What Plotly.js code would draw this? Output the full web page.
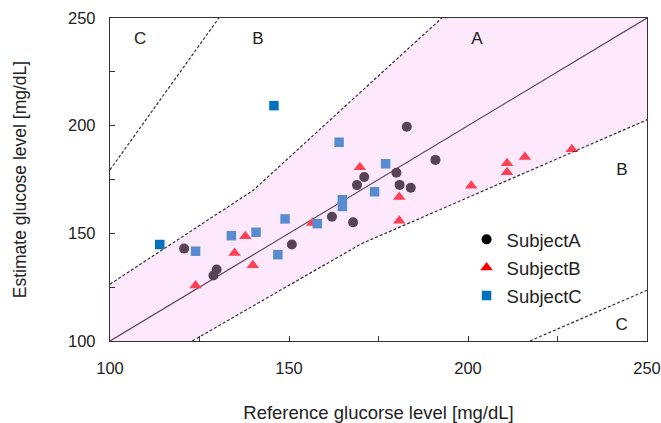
<!DOCTYPE html>
<html>
<head>
<meta charset="utf-8">
<script src="https://cdn.plot.ly/plotly-3.0.1.min.js"></script>
<style>html,body{margin:0;padding:0;background:#fff;}#chart{width:661px;height:423px;}</style>
</head>
<body>
<div id="chart"></div>
<script>
// Subject data: reference vs estimate glucose [mg/dL]
const subjectA_ref = [120.7, 129.8, 128.9, 150.8, 162.0, 167.9, 169.0, 171.0, 180.0, 180.9, 184.0, 182.9, 190.9];
const subjectA_est = [142.9, 133.2, 130.4, 144.8, 157.7, 155.1, 172.4, 176.2, 178.1, 172.5, 171.2, 199.5, 184.1];
const subjectB_ref = [123.9, 134.8, 137.8, 139.9, 156.5, 169.8, 180.8, 180.8, 200.9, 210.9, 210.9, 215.9, 229.0];
const subjectB_est = [125.8, 140.9, 148.6, 135.2, 154.8, 180.7, 166.9, 155.9, 172.1, 182.6, 178.4, 185.4, 189.1];
const subjectC_ref = [113.9, 123.9, 133.9, 140.8, 146.9, 145.8, 148.9, 157.9, 164.0, 164.9, 164.9, 173.9, 177.0];
const subjectC_est = [144.8, 141.7, 148.9, 150.5, 140.1, 209.3, 156.7, 154.5, 192.3, 165.6, 162.5, 169.3, 182.3];

// Error grid boundaries
const identityX = [100, 250];
const identityY = [100, 250];
const aUpperX = [100, 140, 192.67, 250];
const aUpperY = [126.4, 170, 250, 250];
const aLowerX = [123.0, 170, 250];
const aLowerY = [100, 145, 202.7];
const bUpperX = [100, 130.4];
const bUpperY = [179.5, 250];
const bLowerX = [217.3, 250];
const bLowerY = [100, 123.6];

const zoneText = ['C', 'B', 'A', 'B', 'C'];
const zoneX = [108.4, 141.3, 202.5, 243.0, 242.9];
const zoneY = [239.7, 239.7, 239.7, 179.0, 107.2];

const dashLine = {color: '#333333', width: 1.2, dash: '3px,2px'};

// zone A polygon
const zoneAX = [100].concat(aUpperX.slice(0, 3), [250], aLowerX.slice().reverse(), [100]);
const zoneAY = [100].concat(aUpperY.slice(0, 3), [250], aLowerY.slice().reverse(), [100]);

const traces = [
  {x: identityX, y: identityY, mode: 'lines', line: {color: '#000000', width: 1.2}, showlegend: false, hoverinfo: 'skip'},
  {x: subjectA_ref, y: subjectA_est, mode: 'markers', name: 'SubjectA', legendgroup: 'a',
   marker: {symbol: 'circle', size: 10, color: '#000000'}},
  {x: subjectB_ref, y: subjectB_est, mode: 'markers', name: 'SubjectB', legendgroup: 'b',
   marker: {symbol: 'triangle-up', size: 11, color: '#ff0000'}},
  {x: subjectC_ref, y: subjectC_est, mode: 'markers', name: 'SubjectC', legendgroup: 'c',
   marker: {symbol: 'square', size: 9.5, color: '#0072bd'}},
  {x: zoneAX, y: zoneAY, mode: 'lines', fill: 'toself', fillcolor: 'rgba(249,189,246,0.35)',
   line: {width: 0}, showlegend: false, hoverinfo: 'skip'},
  {x: aUpperX.slice(0, 3), y: aUpperY.slice(0, 3), mode: 'lines', line: dashLine, showlegend: false, hoverinfo: 'skip'},
  {x: aLowerX, y: aLowerY, mode: 'lines', line: dashLine, showlegend: false, hoverinfo: 'skip'},
  {x: bUpperX, y: bUpperY, mode: 'lines', line: dashLine, showlegend: false, hoverinfo: 'skip'},
  {x: bLowerX, y: bLowerY, mode: 'lines', line: dashLine, showlegend: false, hoverinfo: 'skip'},
  {x: zoneX, y: zoneY, mode: 'text', text: zoneText, textfont: {size: 17, color: '#222222', family: 'Liberation Sans, Arial, sans-serif'},
   showlegend: false, hoverinfo: 'skip'}
];

const axisCommon = {
  range: [100, 250], dtick: 50, tick0: 100, ticks: 'inside', ticklen: 5, tickcolor: '#333333',
  showgrid: false, zeroline: false, showline: true, linecolor: '#333333', linewidth: 1.2, mirror: true,
  minor: {dtick: 25, ticks: 'inside', ticklen: 5, tickcolor: '#333333', showgrid: false},
  tickfont: {size: 16.5, color: '#222222'}
};

const layout = {
  width: 661, height: 423,
  margin: {l: 110, r: 14, t: 18, b: 82},
  paper_bgcolor: '#ffffff', plot_bgcolor: '#ffffff',
  font: {family: 'Liberation Sans, Arial, sans-serif', color: '#222222'},
  xaxis: Object.assign({}, axisCommon, {title: {text: 'Reference glucorse level [mg/dL]', font: {size: 18.5}, standoff: 30}, ticklabelstandoff: 12}),
  yaxis: Object.assign({}, axisCommon, {title: {text: 'Estimate glucose level [mg/dL]', font: {size: 17.5}, standoff: 36}, ticklabelstandoff: 10}),
  legend: {x: 0.664, y: 0.372, xanchor: 'left', yanchor: 'top', bgcolor: 'rgba(0,0,0,0)',
    font: {size: 18.5, color: '#222222'}, tracegroupgap: 1, itemwidth: 30},
  showlegend: true
};

Plotly.newPlot('chart', traces, layout, {displayModeBar: false, staticPlot: true});
</script>
</body>
</html>
